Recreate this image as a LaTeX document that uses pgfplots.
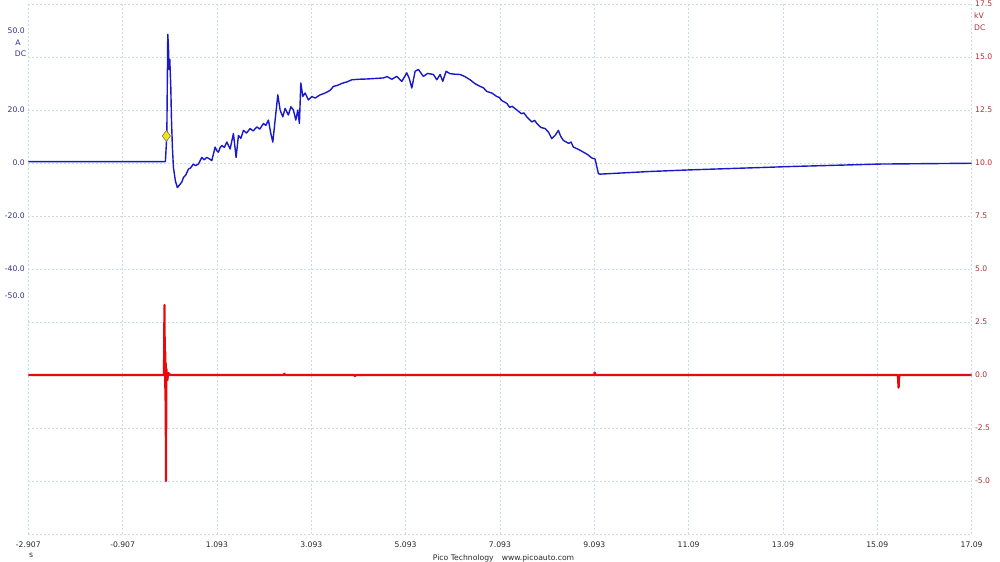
\documentclass[border=0pt]{standalone}
\usepackage{fontspec}
\setmainfont{DejaVu Sans}
\usepackage{pgfplots}
\pgfplotsset{compat=1.18}

\definecolor{traceA}{RGB}{25,25,200}
\definecolor{traceV}{RGB}{230,10,10}
\definecolor{labA}{RGB}{50,50,140}
\definecolor{labV}{RGB}{170,50,50}
\definecolor{gridc}{RGB}{200,220,232}
\definecolor{txt}{RGB}{40,40,40}
\definecolor{trig}{RGB}{240,230,20}

\newcommand{\lbl}{\fontsize{7.7}{9}\selectfont}

\begin{document}
\begin{tikzpicture}
\useasboundingbox (-28.3bp,-28bp) rectangle (971.7bp,534bp);

% channel B: kV, right scale, carries the grid and the time labels
\begin{axis}[
  at={(0,0)}, anchor=south west,
  scale only axis, width=943.3bp, height=530bp,
  xmin=-2.907, xmax=17.093, ymin=-7.5, ymax=17.5,
  clip mode=individual,
  axis line style={draw=none},
  major tick length=0pt,
  xtick={-2.907,-0.907,1.093,3.093,5.093,7.093,9.093,11.093,13.093,15.093,17.093},
  xticklabels={-2.907,-0.907,1.093,3.093,5.093,7.093,9.093,11.09,13.09,15.09,17.09},
  ytick={-7.5,-5,-2.5,0,2.5,5,7.5,10,12.5,15,17.5},
  yticklabels={{},-5.0,-2.5,0.0,2.5,5.0,7.5,10.0,12.5,15.0,17.5},
  yticklabel pos=right,
  grid=major,
  major grid style={gridc, dash pattern=on 2bp off 2bp, line width=0.7bp},
  ticklabel style={font=\lbl},
  xticklabel style={text=txt, yshift=-4.5bp},
  yticklabel style={text=labV},
]
\addplot[traceV, line width=2.2bp, line join=round] coordinates {
  (-2.907,0) (-0.03,0) (-0.02,3.3) (-0.012,0.2) (-0.005,1.1) (0.0,-1.2)
  (0.005,0.6) (0.012,-5.0) (0.02,0.3) (0.04,-0.25) (0.06,0.1) (0.1,0)
  (2.5,0) (2.52,0.06) (2.54,0) (4.0,0) (4.02,-0.05) (4.04,0)
  (9.09,0) (9.1,0.12) (9.12,0) (15.53,0) (15.545,-0.6) (15.56,0) (17.093,0)
};
\node[anchor=west, inner sep=0pt, xshift=2.4bp, yshift=-11.7bp, text=labV, font=\lbl]
  at (rel axis cs:1,1) {kV};
\node[anchor=west, inner sep=0pt, xshift=2.4bp, yshift=-23.7bp, text=labV, font=\lbl]
  at (rel axis cs:1,1) {DC};
\end{axis}

% channel A: current, left scale
\begin{axis}[
  at={(0,0)}, anchor=south west,
  scale only axis, width=943.3bp, height=530bp,
  xmin=-2.907, xmax=17.093, ymin=-140, ymax=60,
  clip mode=individual,
  axis line style={draw=none},
  major tick length=0pt,
  xtick=\empty,
  ytick={-50,-40,-20,0,20,50},
  yticklabels={-50.0,-40.0,-20.0,0.0,20.0,50.0},
  yticklabel pos=left,
  ticklabel style={font=\lbl},
  yticklabel style={text=labA},
]
\addplot[traceA, line width=1.4bp, line join=round] coordinates {
  (-2.907,0.5) (-0.02,0.5) (0.00,0.6) (0.03,10.4) (0.05,48.6) (0.064,44.2)
  (0.078,35.3) (0.093,39.1) (0.114,28.9) (0.127,17.4) (0.148,6.0) (0.17,-1.7)
  (0.212,-6.8) (0.254,-9.3) (0.312,-8.0) (0.35,-7.1) (0.382,-5.5) (0.43,-4.6)
  (0.488,-2.3) (0.53,-1.9) (0.594,-0.4) (0.64,-1.0) (0.70,-0.4) (0.772,2.1)
  (0.82,1.2) (0.878,2.1) (0.93,1.6) (0.984,0.9) (1.054,6.0) (1.09,4.6)
  (1.124,4.1) (1.16,5.8) (1.196,6.6) (1.25,5.9) (1.302,7.9) (1.372,5.3)
  (1.442,11.1) (1.499,2.1) (1.548,10.4) (1.6,9.3) (1.654,12.3) (1.72,11.3)
  (1.796,13.0) (1.86,12.1) (1.938,13.6) (2.0,12.8) (2.078,14.9) (2.13,14.2)
  (2.184,16.2) (2.235,11.1) (2.277,7.9) (2.326,16.2) (2.383,25.7) (2.432,20.0)
  (2.489,17.4) (2.538,20.6) (2.608,18.1) (2.66,21.2) (2.714,20.0) (2.765,16.2)
  (2.807,20.0) (2.841,14.9) (2.871,30.2) (2.913,25.1) (2.962,26.4) (3.032,23.8)
  (3.104,25.1) (3.174,24.5) (3.28,25.7) (3.386,26.4) (3.492,27.4) (3.562,28.9)
  (3.65,29.3) (3.75,30.1) (3.85,30.6) (3.952,31.4) (4.1,31.6) (4.27,31.7)
  (4.45,31.9) (4.622,32.1) (4.7,32.6) (4.8,31.6) (4.906,32.7) (5.012,30.8)
  (5.118,34.0) (5.17,31.9) (5.224,28.3) (5.294,34.6) (5.364,35.3) (5.42,33.9)
  (5.470,32.7) (5.56,33.8) (5.682,33.4) (5.754,31.4) (5.824,33.4) (5.881,30.8)
  (5.951,34.6) (6.036,33.7) (6.14,33.5) (6.248,33.4) (6.35,32.6) (6.46,31.4)
  (6.56,30.0) (6.672,28.9) (6.74,28.4) (6.814,27.0) (6.92,26.4) (7.026,25.1)
  (7.08,24.7) (7.13,23.6) (7.238,22.5) (7.3,21.0) (7.35,21.4) (7.45,20.0)
  (7.55,18.6) (7.6,18.9) (7.662,17.4) (7.77,15.5) (7.83,16.1) (7.874,14.9)
  (7.96,13.4) (8.05,13.0) (8.12,11.7) (8.192,9.2) (8.262,10.4) (8.332,12.3)
  (8.38,10.1) (8.438,8.5) (8.55,7.4) (8.6,7.9) (8.65,6.0) (8.75,5.2)
  (8.862,4.1) (8.95,3.2) (9.04,1.9) (9.11,1.5) (9.18,-4.0) (9.216,-4.2)
  (10.276,-3.2) (11.12,-2.6) (13.31,-1.3) (15.15,-0.4) (17.093,-0.1)
};
\addplot[only marks, mark=diamond*, mark size=5.5bp,
  mark options={fill=trig, draw=gray!80!black, line width=0.5bp}]
  coordinates {(0.02,10.2)};
\node[inner sep=0pt, xshift=-10.3bp, yshift=-12.4bp, text=labA, font=\lbl]
  at (axis cs:-2.907,50) {A};
\node[inner sep=0pt, xshift=-7.8bp, yshift=-23.7bp, text=labA, font=\lbl]
  at (axis cs:-2.907,50) {DC};
\end{axis}

\node[text=txt, font=\lbl, inner sep=0pt] at (2.7bp,-21.7bp) {s};
\node[text=txt, font=\lbl, inner sep=0pt] at (475.2bp,-24bp)
  {Pico Technology\hspace{8bp}www.picoauto.com};
\end{tikzpicture}
\end{document}
